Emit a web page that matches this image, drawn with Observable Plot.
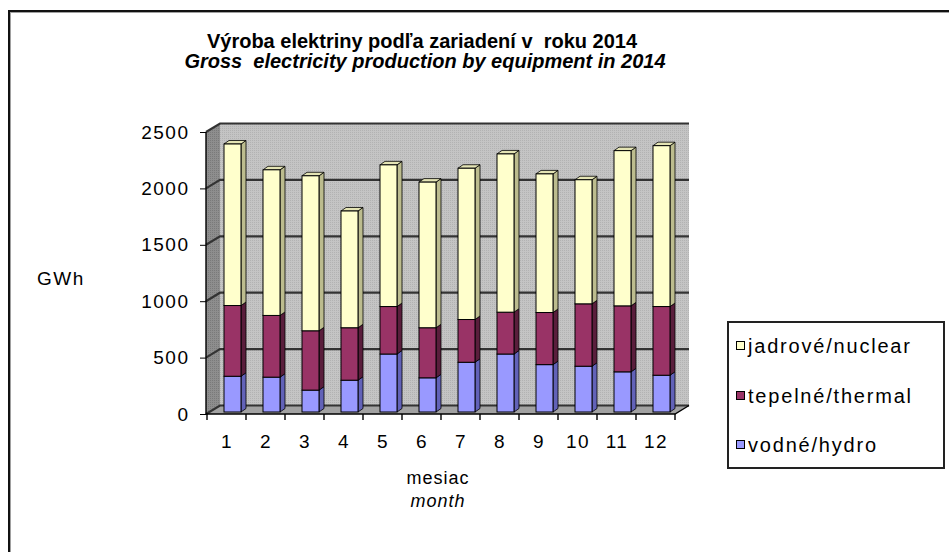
<!DOCTYPE html>
<html><head><meta charset="utf-8">
<script src="https://cdn.jsdelivr.net/npm/d3@7"></script>
<script src="https://cdn.jsdelivr.net/npm/@observablehq/plot@0.6"></script>
<style>
html,body{margin:0;padding:0;background:#fff;}
#wrap{position:relative;width:949px;height:552px;overflow:hidden;background:#fff;font-family:Arial,"Liberation Sans",sans-serif;}
#chart{position:absolute;left:0;top:0;}
#border{position:absolute;left:8px;top:10px;width:1200px;height:800px;border-left:2px solid #111;border-top:2px solid #111;box-shadow:inset 1px 1px 0 #a0a0a0;pointer-events:none;}
#overlay{position:absolute;left:0;top:0;pointer-events:none;}
</style></head><body>
<div id="wrap"><div id="chart"></div><div id="border"></div><svg id="overlay" width="949" height="552"></svg></div>
<script>
// ---- data ----
const months = ["1","2","3","4","5","6","7","8","9","10","11","12"];
const seriesNames = ["vodné/hydro", "tepelné/thermal", "jadrové/nuclear"];
const hydro   = [317, 309, 194, 282, 514, 303, 441, 514, 420, 406, 356, 326];
const thermal = [627, 547, 526, 465, 421, 444, 379, 371, 462, 553, 585, 609];
const nuclear = [1432, 1291, 1374, 1035, 1256, 1291, 1341, 1403, 1229, 1100, 1376, 1426];
const yTicks = [0, 500, 1000, 1500, 2000, 2500];
const titleText = "Výroba elektriny podľa zariadení v  roku 2014";
const subtitleText = "Gross  electricity production by equipment in 2014";
const yLabel = "GWh";
const xLabel1 = "mesiac";
const xLabel2 = "month";
const legendOrder = ["jadrové/nuclear", "tepelné/thermal", "vodné/hydro"];

// ---- styles ----
const frontColors = ["#9999ff", "#993366", "#ffffcc"];
const sideColors  = ["#6262b8", "#5a1e3c", "#bcbc8e"];
const topColor = "#e4e4b4";
const WDX = 14, WDY = -8.5;   // wall depth offset
const BDX = 3, BDY = -2;      // bar set-back
const FDX = 5, FDY = -3.5;    // bar depth
const INL = 14, INR = 8;

const seriesValues = [hydro, thermal, nuclear];
const rows = [];
months.forEach((m, i) => {
  let cum = 0;
  seriesValues.forEach((vals, j) => {
    rows.push({month: m, series: seriesNames[j], si: j, y1: cum, y2: cum + vals[i]});
    cum += vals[i];
  });
});

function walls(index, scales, values, dims) {
  const {x, y} = scales;
  const g = d3.create("svg:g");
  const defs = g.append("defs");
  const p = defs.append("pattern").attr("id", "dith").attr("width", 2).attr("height", 2).attr("patternUnits", "userSpaceOnUse");
  p.append("rect").attr("width", 2).attr("height", 2).attr("fill", "#c4c4c4");
  p.append("rect").attr("width", 1).attr("height", 1).attr("fill", "#b2b2b2");
  const p2 = defs.append("pattern").attr("id", "dith2").attr("width", 2).attr("height", 2).attr("patternUnits", "userSpaceOnUse");
  p2.append("rect").attr("width", 2).attr("height", 2).attr("fill", "#8e8e8e");
  p2.append("rect").attr("width", 1).attr("height", 1).attr("fill", "#7a7a7a");
  const [xL, xR] = x.range();
  const yT = y(yTicks[yTicks.length - 1]), yB = y(0);
  g.append("rect").attr("x", xL + WDX).attr("y", yT + WDY).attr("width", xR - xL).attr("height", yB - yT).attr("fill", "url(#dith)");
  g.append("path").attr("d", `M${xL},${yT}L${xL + WDX},${yT + WDY}L${xL + WDX},${yB + WDY}L${xL},${yB}Z`).attr("fill", "url(#dith2)");
  g.append("path").attr("d", `M${xL},${yB}L${xL + WDX},${yB + WDY}L${xR + WDX},${yB + WDY}L${xR},${yB}Z`).attr("fill", "#a2a2a2");
  for (const t of yTicks) {
    const yy = y(t);
    g.append("path").attr("d", `M${xL},${yy}L${xL + WDX},${yy + WDY}L${xR + WDX},${yy + WDY}`)
      .attr("fill", "none").attr("stroke", "#333").attr("stroke-width", 2.2);
  }
  return g.node();
}

function barFaces(index, scales) {
  const {x, y} = scales;
  const g = d3.create("svg:g").attr("stroke", "#000").attr("stroke-width", 0.8).attr("stroke-linejoin", "round");
  const bw = x.bandwidth();
  const byMonth = d3.group(rows, d => d.month);
  for (const [m, segs] of byMonth) {
    const xl = x(m) + BDX + INL, xr = x(m) + BDX + bw - INR;
    for (const s of segs) {
      const yt = y(s.y2) + BDY, yb = y(s.y1) + BDY;
      g.append("path").attr("d", `M${xr},${yt}L${xr + FDX},${yt + FDY}L${xr + FDX},${yb + FDY}L${xr},${yb}Z`).attr("fill", sideColors[s.si]);
    }
    const top = segs[segs.length - 1];
    const yt = y(top.y2) + BDY;
    g.append("path").attr("d", `M${xl},${yt}L${xl + FDX},${yt + FDY}L${xr + FDX},${yt + FDY}L${xr},${yt}Z`).attr("fill", topColor);
  }
  return g.node();
}

function axisLines(index, scales) {
  const {x, y} = scales;
  const g = d3.create("svg:g").attr("stroke", "#000").attr("fill", "none").attr("stroke-width", 1.4);
  const [xL, xR] = x.range();
  const yT = y(yTicks[yTicks.length - 1]), yB = y(0);
  g.append("path").attr("d", `M${xL},${yT}L${xL},${yB}L${xR},${yB}L${xR + WDX},${yB + WDY}`);
  const bounds = months.map(m => x(m)).concat([xR]);
  for (const b of bounds) g.append("path").attr("d", `M${b},${yB}L${b},${yB + 6}`);
  return g.node();
}

const plot = Plot.plot({
  width: 949, height: 552,
  marginLeft: 206, marginRight: 274, marginTop: 132, marginBottom: 138,
  style: {fontFamily: "Arial, 'Liberation Sans', sans-serif", fontSize: "19px", letterSpacing: "1.5px", color: "#000", background: "transparent"},
  x: {domain: months, padding: 0, tickSize: 0, tickPadding: 20, label: null},
  y: {domain: [0, 2500], ticks: yTicks, tickSize: 6, tickPadding: 11, label: null, tickFormat: d => String(d)},
  color: {domain: seriesNames, range: frontColors},
  marks: [
    walls,
    barFaces,
    Plot.barY(rows, {x: "month", y1: "y1", y2: "y2", fill: "series", stroke: "#000", strokeWidth: 1, insetLeft: INL, insetRight: INR, dx: BDX, dy: BDY}),
    axisLines
  ]
});
document.getElementById("chart").appendChild(plot);

// ---- overlay texts (title, axis titles, legend) ----
const ov = d3.select("#overlay").style("font-family", "Arial, 'Liberation Sans', sans-serif");
ov.append("text").attr("x", 422).attr("y", 48).attr("text-anchor", "middle").attr("font-size", 20).attr("font-weight", "bold").style("white-space", "pre").text(titleText);
ov.append("text").attr("x", 425).attr("y", 68).attr("text-anchor", "middle").attr("font-size", 20).attr("font-weight", "bold").attr("font-style", "italic").style("white-space", "pre").text(subtitleText);
ov.append("text").attr("x", 37).attr("y", 285).attr("font-size", 19).style("letter-spacing", "1.5px").text(yLabel);
ov.append("text").attr("x", 438).attr("y", 484).attr("text-anchor", "middle").attr("font-size", 18).style("letter-spacing", "1px").text(xLabel1);
ov.append("text").attr("x", 438).attr("y", 507).attr("text-anchor", "middle").attr("font-size", 18).attr("font-style", "italic").style("letter-spacing", "1px").text(xLabel2);
// legend
ov.append("rect").attr("x", 728).attr("y", 322).attr("width", 216).attr("height", 146).attr("fill", "#fff").attr("stroke", "#222").attr("stroke-width", 2);
const legY = [353, 403, 452];
legendOrder.forEach((name, k) => {
  const j = seriesNames.indexOf(name);
  ov.append("rect").attr("x", 736.5).attr("y", legY[k] - 11.5).attr("width", 8).attr("height", 8).attr("fill", frontColors[j]).attr("stroke", "#000").attr("stroke-width", 1);
  ov.append("text").attr("x", 748).attr("y", legY[k]).attr("font-size", 20).style("letter-spacing", "1.8px").text(name);
});
</script>
</body></html>
